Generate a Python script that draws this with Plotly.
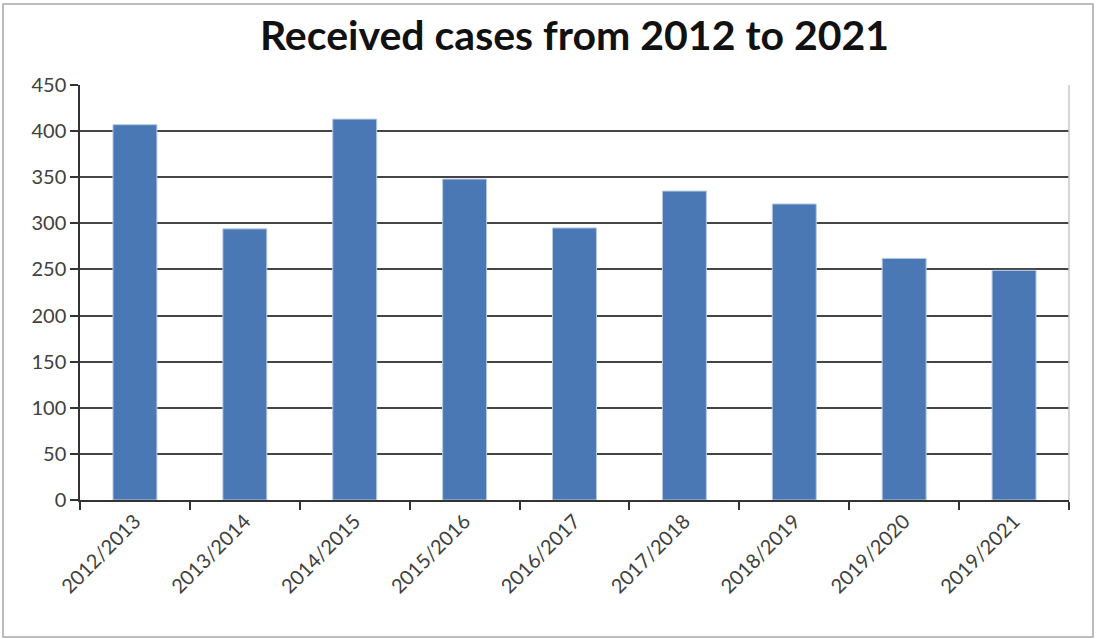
import plotly.graph_objects as go

categories = ["2012/2013", "2013/2014", "2014/2015", "2015/2016", "2016/2017",
              "2017/2018", "2018/2019", "2019/2020", "2019/2021"]
cases = [407, 294, 413, 348, 295, 335, 321, 262, 249]
y_ticks = [0, 50, 100, 150, 200, 250, 300, 350, 400, 450]
title_text = "Received cases from 2012 to 2021"

W, H = 1096, 639
ml, mr, mt, mb = 80, 27, 85, 139

fig = go.Figure(go.Bar(
    x=categories, y=cases,
    marker=dict(color="#4a78b5", line=dict(color="#b7c9e3", width=1)),
    width=0.40,
))

pw = W - ml - mr
ph = H - mt - mb

def px_x(p):
    return (p - ml) / pw

def px_y(p):
    return (H - mb - p) / ph

fig.update_layout(
    width=W, height=H,
    margin=dict(l=ml, r=mr, t=mt, b=mb, autoexpand=False),
    paper_bgcolor="white", plot_bgcolor="white",
    title=dict(text="<b>" + title_text + "</b>", x=0.5, xanchor="center",
               xref="paper", y=1 - 36 / H, yanchor="middle",
               font=dict(family="Lato", size=41, color="#111111")),
    font=dict(family="Lato", size=20, color="#404040"),
    showlegend=False,
    bargap=0.6,
    shapes=[
        dict(type="rect", xref="paper", yref="paper",
             x0=px_x(3), x1=px_x(1093), y0=px_y(4), y1=px_y(637),
             line=dict(color="#a6a6a6", width=1.5), fillcolor="rgba(0,0,0,0)", layer="below"),
        dict(type="line", xref="paper", yref="paper", x0=1, x1=1, y0=0, y1=1,
             line=dict(color="#c8c8c8", width=1.5)),
    ],
)

fig.update_xaxes(
    type="category", tickson="boundaries", ticks="outside", ticklen=8, tickwidth=1.5,
    tickcolor="#333333", showline=True, linecolor="#333333", linewidth=1.5,
    tickangle=-45, showgrid=False, tickfont=dict(size=20, color="#404040"),
    range=[-0.5, len(categories) - 0.5],
)
fig.update_yaxes(
    range=[0, 450], tickvals=y_ticks, ticks="outside", ticklen=8, tickwidth=1.5,
    tickcolor="#333333", showline=True, linecolor="#333333", linewidth=1.5,
    showgrid=True, gridcolor="#454545", gridwidth=1.8, zeroline=False,
    tickfont=dict(size=20, color="#404040"),
)

fig.write_html("out.html")
